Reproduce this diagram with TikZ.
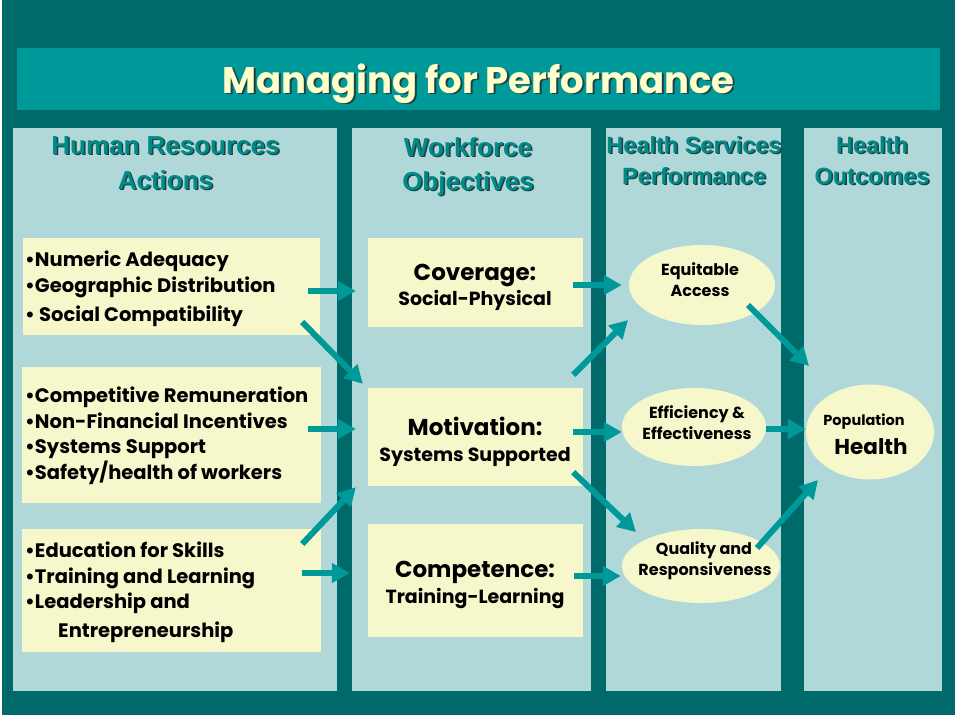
\documentclass[tikz,border=0pt]{standalone}
\usepackage{fontspec}
\setmainfont{Poppins}
\newfontfamily\headfont{Liberation Sans}
\usetikzlibrary{arrows.meta,shapes.geometric,calc}

\definecolor{bgteal}{HTML}{006A6A}
\definecolor{bandteal}{HTML}{009999}
\definecolor{panelblue}{HTML}{B1D8D8}
\definecolor{boxcream}{HTML}{F7F7CC}
\definecolor{headteal}{HTML}{008A8A}
\definecolor{headshade}{HTML}{1F4040}
\definecolor{titlecream}{HTML}{FFFFCC}
\definecolor{arrowteal}{HTML}{009999}

% text with a small drop shadow, set in one box
\newcommand\dropshadowed[3]{%
  \makebox[0pt][l]{\hspace*{#1}\raisebox{-#1}{\color{headshade}#3}}{\color{#2}#3}}

\tikzset{
  panel/.style={fill=panelblue, draw=none, rectangle, inner sep=0pt},
  cbox/.style={fill=boxcream, draw=none, rectangle, inner sep=0pt},
  cell/.style={fill=boxcream, draw=none, ellipse, inner sep=0pt},
  hdr/.style={font=\headfont\bfseries\fontsize{26}{30}\selectfont, anchor=base, inner sep=0pt},
  hdrs/.style={font=\headfont\bfseries\fontsize{23.5}{28}\selectfont, anchor=base, inner sep=0pt},
  item/.style={font=\bfseries\fontsize{19.5}{24}\selectfont, anchor=base west, inner sep=0pt},
  goal/.style={font=\bfseries\fontsize{23}{28}\selectfont, anchor=base, inner sep=0pt},
  goalsub/.style={font=\bfseries\fontsize{19}{24}\selectfont, anchor=base, inner sep=0pt},
  perf/.style={font=\bfseries\fontsize{16}{20}\selectfont, anchor=base, inner sep=0pt},
  flow/.style={draw=arrowteal, line width=6pt, -{Triangle[length=18pt,width=19pt]}}
}

\begin{document}
\begin{tikzpicture}[x=1pt,y=-1pt]
\useasboundingbox (0,0) rectangle (955,715);
\fill[white] (0,0) rectangle (955,715);
\fill[bgteal] (2,0) rectangle (955,715);

% title band
\node[fill=bandteal, minimum width=923, minimum height=62, inner sep=0pt] (band) at (478.5,79) {};
\node[font=\bfseries\fontsize{37}{42}\selectfont, anchor=base, inner sep=0pt] (title) at (478.5,93)
  {\dropshadowed{1.8pt}{titlecream}{Managing for Performance}};

% columns
\node[panel, minimum width=324, minimum height=563] (col1) at (175,409.5) {};
\node[panel, minimum width=239, minimum height=563] (col2) at (471.5,409.5) {};
\node[panel, minimum width=175, minimum height=563] (col3) at (693.5,409.5) {};
\node[panel, minimum width=138, minimum height=563] (col4) at (873,409.5) {};

% column headings
\node[hdr]  (h1a) at (165.5,154) {\dropshadowed{1.5pt}{headteal}{Human Resources}};
\node[hdr]  (h1b) at (165.5,189) {\dropshadowed{1.5pt}{headteal}{Actions}};
\node[hdr]  (h2a) at (468,156)   {\dropshadowed{1.5pt}{headteal}{Workforce}};
\node[hdr]  (h2b) at (468,190)   {\dropshadowed{1.5pt}{headteal}{Objectives}};
\node[hdrs] (h3a) at (694,153)   {\dropshadowed{1.5pt}{headteal}{Health Services}};
\node[hdrs] (h3b) at (694,184)   {\dropshadowed{1.5pt}{headteal}{Performance}};
\node[hdrs] (h4a) at (872,153)   {\dropshadowed{1.5pt}{headteal}{Health}};
\node[hdrs] (h4b) at (872,184)   {\dropshadowed{1.5pt}{headteal}{Outcomes}};

% human resources actions
\node[cbox, minimum width=297, minimum height=97]  (hr1) at (171.5,286.5) {};
\node[cbox, minimum width=299, minimum height=136] (hr2) at (171.5,435) {};
\node[cbox, minimum width=299, minimum height=123] (hr3) at (171.5,590.5) {};

\node[item] (t11) at (25,266) {•Numeric Adequacy};
\node[item] (t12) at (25,292) {•Geographic Distribution};
\node[item] (t13) at (25,321) {• Social Compatibility};
\node[item] (t21) at (25,402) {•Competitive Remuneration};
\node[item] (t22) at (25,428) {•Non-Financial Incentives};
\node[item] (t23) at (25,453) {•Systems Support};
\node[item] (t24) at (25,479) {•Safety/health of workers};
\node[item] (t31) at (25,557) {•Education for Skills};
\node[item] (t32) at (25,583) {•Training and Learning};
\node[item] (t33) at (25,608) {•Leadership and};
\node[item] (t34) at (58,637) {Entrepreneurship};

% workforce objectives
\node[cbox, minimum width=215, minimum height=89]  (cov)  at (475.5,282.5) {};
\node[cbox, minimum width=215, minimum height=98]  (mot)  at (475.5,437) {};
\node[cbox, minimum width=215, minimum height=113] (comp) at (475.5,580.5) {};

\node[goal]    (cova)  at (475,280) {Coverage:};
\node[goalsub] (covb)  at (475,305) {Social-Physical};
\node[goal]    (mota)  at (475,435) {Motivation:};
\node[goalsub] (motb)  at (475,461) {Systems Supported};
\node[goal]    (compa) at (475,577) {Competence:};
\node[goalsub] (compb) at (475,603) {Training-Learning};

% health services performance
\node[cell, minimum width=146, minimum height=80] (eq)   at (702,285) {};
\node[cell, minimum width=144, minimum height=78] (eff)  at (694,427) {};
\node[cell, minimum width=158, minimum height=74] (qual) at (701,566) {};

\node[perf] (eqa)   at (700,275) {Equitable};
\node[perf] (eqb)   at (700,296) {Access};
\node[perf] (effa)  at (697,418) {Efficiency \&};
\node[perf] (effb)  at (697,439) {Effectiveness};
\node[perf] (quala) at (704,554) {Quality and};
\node[perf] (qualb) at (705,575) {Responsiveness};

% health outcomes
\node[cell, minimum width=128, minimum height=95] (pop) at (870,432) {};
\node[font=\bfseries\fontsize{14.5}{18}\selectfont, anchor=base, inner sep=0pt] (popa) at (864,425) {Population};
\node[font=\bfseries\fontsize{21.5}{26}\selectfont, anchor=base, inner sep=0pt] (popb) at (871,454) {Health};

% connectors
\draw[flow] ($(hr1.east)+(-12,4.5)$) -- ($(cov.west)+(-12,8.5)$);
\draw[flow] ($(hr1.east)+(-18,35.5)$) -- ($(mot.north west)+(-5,-4)$);
\draw[flow] ($(hr2.east)+(-13,-6)$) -- ($(mot.west)+(-12,-8)$);
\draw[flow] ($(hr3.east)+(-19,-46.5)$) -- ($(mot.south west)+(-12,1)$);
\draw[flow] ($(hr3.east)+(-19,-17.5)$) -- ($(comp.west)+(-18,-7.5)$);

\draw[flow] ($(cov.east)+(-10,2.5)$) -- ($(eq.west)+(-7,0)$);
\draw[flow] ($(mot.north east)+(-10,-13)$) -- ($(eq.center)+(-74,35)$);
\draw[flow] ($(mot.east)+(-10,-5)$) -- ($(eff.west)+(0,5)$);
\draw[flow] ($(mot.south east)+(-10,-14)$) -- ($(qual.center)+(-65,-34)$);
\draw[flow] ($(comp.east)+(-9,-4.5)$) -- ($(qual.west)+(-1,10)$);

\draw[flow] ($(eq.center)+(46,20)$) -- ($(pop.center)+(-61,-66)$);
\draw[flow] ($(eff.east)+(0,2)$) -- ($(pop.west)+(0,-3)$);
\draw[flow] ($(qual.center)+(56,-18)$) -- ($(pop.center)+(-52,48)$);
\end{tikzpicture}
\end{document}
